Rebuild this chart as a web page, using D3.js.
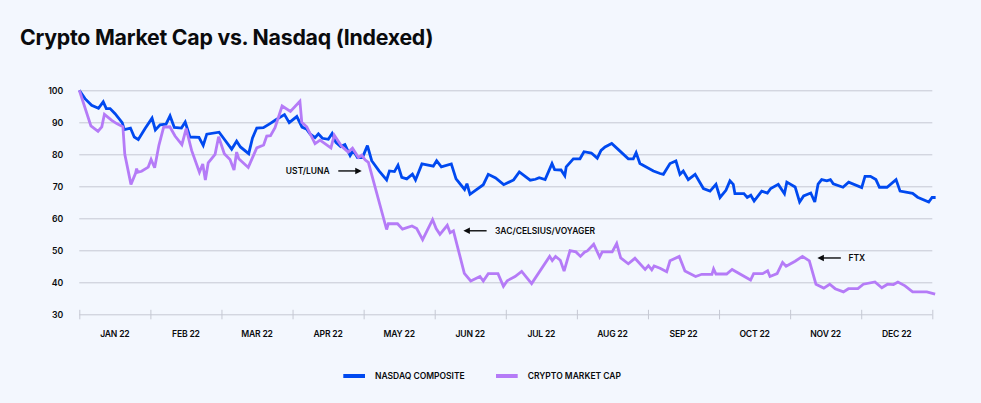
<!DOCTYPE html>
<html><head><meta charset="utf-8">
<script src="https://cdn.jsdelivr.net/npm/d3@7"></script>
<style>
html,body{margin:0;padding:0;background:#f3f7fe;}
svg{display:block;font-family:Inter,"Noto Sans",sans-serif;}
</style></head>
<body><svg id="c" width="981" height="403"></svg>
<script>
// x unit: day of year on a 30-day-per-month calendar (0 = Jan 1, 360 = Dec 31)
const months = ["JAN 22","FEB 22","MAR 22","APR 22","MAY 22","JUN 22","JUL 22","AUG 22","SEP 22","OCT 22","NOV 22","DEC 22"];
const yTicks = [30,40,50,60,70,80,90,100];

const nasdaqDays = [0,2.4,5.2,8.1,10.1,11.4,13.0,15.1,18.1,19.0,21.6,23.2,24.9,27.7,30.7,32.1,34.1,36.6,38.3,40.1,43.1,44.7,46.7,50.5,52.3,53.8,59.0,61.2,64.3,66.4,68.0,71.5,73.1,74.9,77.7,80.5,82.8,86.6,88.6,91.8,94.0,96.0,97.5,99.5,100.9,102.6,105.1,106.7,108.3,110.3,112.1,114.3,115.6,117.4,119.5,121.6,123.4,126.5,129.7,130.9,133.0,134.5,136.1,138.2,140.6,141.9,144.6,149.4,150.8,152.8,157.0,159.0,162.6,163.6,164.9,170.5,172.6,175.7,179.1,183.3,185.7,190.3,192.5,194.1,196.6,199.5,200.6,203.3,204.9,205.5,208.5,211.3,213.0,216.1,218.6,220.2,221.9,224.7,228.2,231.7,233.8,235.0,236.6,242.3,245.1,246.5,249.3,251.8,253.5,254.9,257.0,259.9,263.4,266.2,268.7,270.4,272.9,274.6,276.0,276.7,280.5,281.9,283.4,284.8,288.0,290.4,291.8,295.0,297.6,298.6,302.1,304.0,305.7,308.7,310.4,311.8,313.3,315.5,317.0,318.2,322.3,324.7,330.2,331.6,333.9,336.2,337.7,340.9,344.7,346.4,351.7,353.8,358.5,359.9,361.4];
const nasdaqValues = [100,97.4,95.3,94.4,96.4,94.3,94.3,92.7,89.9,87.7,88.2,85.4,84.6,88,91.3,87.6,89.2,89.4,92,88.4,88.2,90.1,85.4,85.3,82.8,86.3,86.9,84.7,81.6,84.1,82.3,80.2,85.1,88.2,88.3,89.6,90.7,92.4,89.9,91.8,88.5,87.8,86.3,85.2,86.4,85,84.7,86.5,83.7,82.4,83,79.6,81.2,79,79,82.7,78,74.8,72,74.8,74.6,76.6,72.8,72.3,73.8,72,77,76.3,78,76.1,77,72.3,69,70.8,67.5,70.5,73.75,72.6,70.5,72,74.5,71.9,72.2,72.7,72.1,77.1,75.2,75.1,73.3,76.1,78.6,78.6,80.8,80.4,78.8,81.2,82.3,83.4,81,78.6,78.6,80.5,77.1,74.8,74,73.75,77.1,77.9,73.75,74.8,72.1,73.75,69.3,68.5,70.6,66.5,68.75,71.7,70.6,67.7,67.7,66.5,67.2,65.4,68.5,67.9,69.3,70.6,67.7,71.3,69.8,65.1,67,67.9,65.1,70.7,72.1,71.7,72.1,70.8,69.7,71.3,69.6,73.1,73.1,72.1,69.7,69.7,72.1,68.5,67.8,66.6,65.1,66.5,66.5];

const cryptoDays = [0,4.9,7.9,9.5,10.6,13.7,15.8,18.4,19.2,21.8,23.7,24.2,24.6,26.3,29.1,30.3,31.8,33.6,35.6,38.2,40.4,43.3,45.1,47.4,50.7,52.1,53.2,54.4,57.3,58.8,61.2,63.6,65.3,66.4,67.3,71.3,74.9,77.8,79.1,80.7,82.6,85.6,89.1,93.1,93.9,96.0,99.5,101.6,106.2,107.6,110.7,113.5,115.3,117.8,119.2,120.6,122.0,129.7,130.4,134.3,136.4,140.4,142.4,144.9,149.1,150.6,152.2,155.3,156.5,157.9,162.5,165.2,169.1,170.5,172.6,176.7,179.0,180.6,183.9,186.7,190.9,198.5,199.6,201.0,203.0,204.6,207.1,209.6,211.5,213.2,214.4,217.1,219.6,220.7,224.9,226.8,228.5,231.7,234.5,238.8,240.2,241.6,242.6,245.1,247.9,249.3,253.2,255.6,260.1,262.7,267.0,267.7,268.7,273.2,275.5,283.3,284.6,288.4,290.5,291.5,294.5,296.8,298.3,302.1,305.2,308.1,310.9,314.2,316.7,319.0,322.5,324.6,328.6,330.9,335.8,338.7,341.1,343.6,345.5,348.5,351.7,357.7,361.2];
const cryptoValues = [100,88.9,87.2,88.6,92.5,90.6,89.6,88.6,80,70.6,74,75.5,74.4,74.7,76,78.4,75.8,82.8,88.5,88.6,85.7,83,88,81.2,74.4,77,72,77.3,80,85.5,80.2,78.4,75.1,80.7,78.6,75.9,82,82.9,85.7,85.8,88.3,95.1,93.4,96.6,90,88.6,83.3,84.4,82,86,82.5,80.7,81.9,79,79.7,78.3,77.5,56.5,58.3,58.3,56.6,57.6,56.8,53.3,59.6,56.8,55,57.8,55.5,56.1,42.8,40.4,41.8,40.4,42.7,42.7,38.75,40.5,41.8,43.4,39.6,48.1,46.8,48.1,46.9,43.5,49.9,49.5,48.1,49.4,49.8,51.9,47.9,49.5,49.5,52.1,47.6,45.8,47.5,44,45.2,43.9,45.1,44.4,43.3,46.7,48.1,43.5,41.8,42.5,42.5,44.2,42.6,42.6,44,40.7,42.7,42.7,43.6,41.8,42.7,46.2,45,46.6,48.1,46.7,39.4,38.2,39.4,38,37,38,38,39.4,40.1,38.3,39.4,39.3,40.1,38.9,37,37,36.3];

const seriesNames = ["NASDAQ COMPOSITE","CRYPTO MARKET CAP"];
const seriesColors = ["#0049f0","#b57bf7"];

// annotations: label, arrow head day, arrow tail day, label anchor day, value
const annLabels = ["UST/LUNA","3AC/CELSIUS/VOYAGER","FTX"];
const annHead = [119.2,162.1,311.5];
const annTail = [109.3,171.9,321.4];
const annText = [105.7,175.4,324.6];
const annValue = [74.8,56.1,47.6];

const svg = d3.select("#c");
const W=981,H=403;
svg.append("rect").attr("width",W).attr("height",H).attr("fill","#f3f7fe");

const x = d3.scaleLinear().domain([0,360]).range([79.3,932.3]);
const y = d3.scaleLinear().domain([30,100]).range([314.3,90.3]);
const ink = "#0a0b0d";

svg.append("text").attr("x",20).attr("y",44.5)
  .attr("font-size",21.3).attr("font-weight",700).attr("fill",ink)
  .attr("letter-spacing","-0.25")
  .text("Crypto Market Cap vs. Nasdaq (Indexed)");

// grid
const gy = svg.append("g").attr("transform",`translate(${x(0)},0)`)
  .call(d3.axisLeft(y).tickValues(yTicks).tickSize(-(x(360)-x(0))).tickPadding(16).tickFormat(d3.format("d")));
gy.select(".domain").remove();
gy.selectAll(".tick line").attr("stroke","#c5c8d3").attr("stroke-width",1);
gy.selectAll(".tick text").attr("font-size",8.7).attr("font-weight",600).attr("fill",ink).attr("font-family","Inter");

// month ticks
const monthBounds = d3.range(13).map(i=>i*30);
const gx = svg.append("g").attr("transform",`translate(0,${y(30)})`)
  .call(d3.axisBottom(x).tickValues(monthBounds).tickSize(5).tickFormat(""));
gx.select(".domain").remove();
gx.selectAll(".tick line").attr("stroke","#c5c8d3").attr("y1",-4.5).attr("y2",5);
svg.append("g").selectAll("text").data(months).join("text")
  .attr("x",(d,i)=>x(i*30+15)).attr("y",y(30)+23)
  .attr("text-anchor","middle").attr("font-size",8.6).attr("font-weight",600)
  .attr("letter-spacing","-0.2").attr("fill",ink).text(d=>d);

// lines
const line = d3.line().x(d=>x(d[0])).y(d=>y(d[1])).curve(d3.curveLinear);
const nasdaq = nasdaqDays.map((d,i)=>[d,nasdaqValues[i]]);
const crypto = cryptoDays.map((d,i)=>[d,cryptoValues[i]]);
svg.append("path").datum(nasdaq).attr("d",line).attr("fill","none")
  .attr("stroke",seriesColors[0]).attr("stroke-width",2.8).attr("stroke-linejoin","miter").attr("stroke-miterlimit",3);
svg.append("path").datum(crypto).attr("d",line).attr("fill","none")
  .attr("stroke",seriesColors[1]).attr("stroke-width",2.8).attr("stroke-linejoin","miter").attr("stroke-miterlimit",3);

// annotations
const ann = svg.append("g");
annLabels.forEach((lab,i)=>{
  const yy = y(annValue[i]);
  const hx = x(annHead[i]), tx = x(annTail[i]);
  const dir = hx>tx?1:-1;
  ann.append("line").attr("x1",tx).attr("x2",hx-dir*5).attr("y1",yy).attr("y2",yy)
    .attr("stroke",ink).attr("stroke-width",1.4);
  ann.append("path").attr("d",`M${hx},${yy} L${hx-dir*6.5},${yy-3.2} L${hx-dir*6.5},${yy+3.2} Z`).attr("fill",ink);
  ann.append("text").attr("x",x(annText[i])).attr("y",yy+3)
    .attr("text-anchor",hx>tx?"end":"start").attr("font-size",8.5).attr("font-weight",600)
    .attr("fill",ink).text(lab);
});

// legend
const legX = [343.3,496];
const lg = svg.append("g");
seriesNames.forEach((n,i)=>{
  lg.append("rect").attr("x",legX[i]).attr("y",374).attr("width",21.7).attr("height",4).attr("fill",seriesColors[i]);
  lg.append("text").attr("x",legX[i]+31.7).attr("y",379).attr("font-size",8.5).attr("font-weight",600)
    .attr("fill",ink).text(n);
});
</script></body></html>
